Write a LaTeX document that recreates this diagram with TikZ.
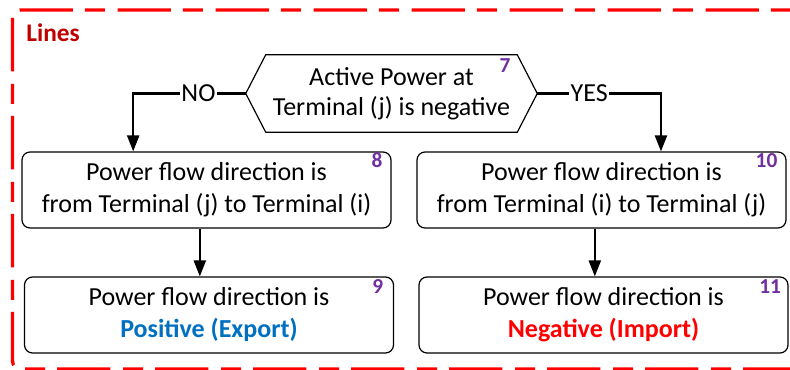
\documentclass[tikz,border=0pt]{standalone}
\usepackage{fontspec}
\setmainfont{Carlito}
\usetikzlibrary{arrows.meta,calc}
\definecolor{bred}{HTML}{FF0000}
\definecolor{dred}{HTML}{C00000}
\definecolor{eblue}{HTML}{0070C0}
\definecolor{npurple}{HTML}{7030A0}
\begin{document}
\begin{tikzpicture}[x=0.75pt,y=-0.75pt,
  box/.style={draw, rounded corners=6pt, line width=0.9pt, minimum width=276.75pt,
    minimum height=57pt, align=center, font=\fontsize{19.5}{24}\selectfont, inner sep=0pt},
  num/.style={font=\fontsize{16}{16}\selectfont\bfseries, text=npurple, inner sep=0pt, anchor=base east},
  arr/.style={line width=1.7pt, -{Triangle[width=9pt,length=12pt]}},
  lbl/.style={fill=white, inner sep=1pt, font=\fontsize{19.5}{24}\selectfont},
  frame/.style={draw=bred, line width=2.5pt, rounded corners=6pt,
    dash pattern=on 40pt off 9.5pt on 15pt off 9pt}
]
\useasboundingbox (0,0) rectangle (790,370);
\begin{scope}
\clip (0,0) rectangle (790,370);
\draw[frame] (12.5,10) rectangle (820,369);
\end{scope}
\node[font=\fontsize{19}{19}\selectfont\bfseries, text=dred, inner sep=0pt] (title) at (53,33) {Lines};

% decision
\node[minimum width=188.25pt, minimum height=57.75pt, inner sep=0pt, align=center,
  font=\fontsize{19.5}{22.5}\selectfont] (dec) at (391.5,93.5) {Active Power at\\Terminal (j) is negative};
\coordinate (decL) at ([xshift=-15pt]dec.west);
\coordinate (decR) at ([xshift=15pt]dec.east);
\draw[line width=0.9pt] (dec.north west) -- (dec.north east) -- (decR) -- (dec.south east)
  -- (dec.south west) -- (decL) -- cycle;
\node[num] (n7) at ([xshift=-5pt,yshift=-13.5pt]dec.north east) {7};

% boxes
\node[box] (b8) at (206.5,190) {Power flow direction is\\from Terminal (j) to Terminal (i)};
\node[box] (b9) at (209,315) {Power flow direction is\\\textcolor{eblue}{\bfseries Positive (Export)}};
\node[box] (b10) at (601.5,190) {Power flow direction is\\from Terminal (i) to Terminal (j)};
\node[box] (b11) at (603.5,315) {Power flow direction is\\\textcolor{bred}{\bfseries Negative (Import)}};

\node[num] (n8) at ([xshift=-6.75pt,yshift=-12pt]b8.north east) {8};
\node[num] (n9) at ([xshift=-8pt,yshift=-13pt]b9.north east) {9};
\node[num] (n10) at ([xshift=-6.75pt,yshift=-12pt]b10.north east) {10};
\node[num] (n11) at ([xshift=-5.5pt,yshift=-13pt]b11.north east) {11};

% connectors
\draw[arr] (decL) -| node[lbl, pos=0.21] {NO} ([xshift=-55pt]b8.north);
\draw[arr] (decR) -| node[lbl, pos=0.21] {YES} ([xshift=44.6pt]b10.north);
\draw[arr] ([xshift=-5pt]b8.south) -- ([xshift=-5pt]b8.south |- b9.north);
\draw[arr] ([xshift=-5pt]b10.south) -- ([xshift=-5pt]b10.south |- b11.north);
\end{tikzpicture}
\end{document}
